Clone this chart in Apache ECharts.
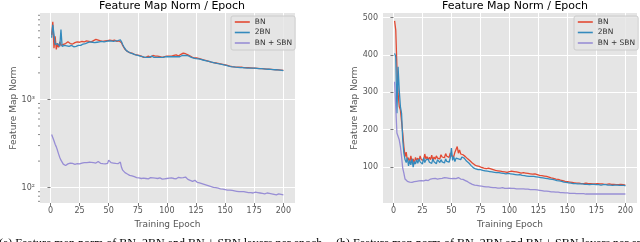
<!DOCTYPE html>
<html>
<head>
<meta charset="utf-8">
<script src="https://cdn.jsdelivr.net/npm/echarts@6/dist/echarts.min.js"></script>
<style>html,body{margin:0;padding:0;background:#fff;}#c{width:640px;height:242px;}</style>
</head>
<body>
<div id="c"></div>
<script>
// ---- data ----
const epochs = Array.from({length: 200}, (_, i) => i + 1);
const xTicks = [0, 25, 50, 75, 100, 125, 150, 175, 200];
const yTicksLog = [100, 1000];
const yTicksLin = [100, 200, 300, 400, 500];
const minorLog = [70, 80, 90, 200, 300, 400, 500, 600, 700, 800, 900, 2000, 3000, 4000, 5000, 6000, 7000, 8000, 9000];
const seriesNames = ['BN', '2BN', 'BN + SBN'];

// left panel (log scale)
const leftBN = [
5400,7600,3800,5200,3700,4300,3900,4500,4100,4300,
4200,4400,4300,4100,4500,4350,4300,4400,4250,4450,
4400,4350,4500,4300,4450,4400,4550,4400,4500,4450,
4600,4500,4550,4700,4500,4600,4650,4550,4800,4600,
4700,4900,4600,4750,4550,4700,4600,4750,4650,4550,
4700,4600,4650,4500,4700,4600,4550,4650,4600,4700,
4400,4100,3900,3700,3600,3500,3450,3400,3350,3350,
3300,3250,3250,3200,3200,3150,3100,3100,3050,3000,
3050,3000,3050,3100,3050,3000,3100,3150,3050,3100,
3050,3100,3150,3050,3100,3000,3100,3050,3150,3100,
3050,3100,3150,3100,3050,3150,3100,3200,3150,3100,
3200,3250,3300,3350,3400,3300,3250,3200,3150,3100,
3050,3000,3000,2950,3000,2950,2900,2900,2850,2850,
2800,2800,2750,2750,2720,2700,2680,2650,2640,2620,
2600,2590,2570,2560,2550,2530,2510,2500,2490,2470,
2450,2430,2410,2390,2380,2360,2350,2340,2330,2330,
2320,2320,2310,2320,2310,2300,2310,2290,2300,2290,
2300,2280,2290,2270,2290,2260,2270,2250,2260,2240,
2250,2230,2240,2220,2230,2210,2220,2200,2210,2190,
2200,2180,2190,2170,2180,2160,2170,2150,2160,2140];
const left2BN = [
5000,7000,5500,4200,4000,4300,4100,4000,6200,4000,
3900,4100,3950,4050,3900,4000,3950,4100,4000,3950,
4050,4000,3850,4100,4150,4100,4200,4250,4200,4300,
4350,4400,4300,4500,4400,4450,4500,4400,4550,4450,
4600,4500,4400,4550,4600,4500,4650,4550,4500,4600,
4450,4600,4500,4550,4450,4600,4500,4650,4550,4750,
4500,4200,3950,3750,3600,3500,3450,3400,3350,3300,
3280,3250,3200,3200,3150,3100,3100,3050,3050,3000,
3000,3050,3000,3050,3000,3050,3100,3050,3000,3050,
3000,3050,3000,3050,3000,3050,3000,3050,3050,3000,
3050,3000,3050,3100,3050,3000,3050,3100,3050,3100,
3050,3100,3150,3100,3150,3200,3150,3100,3100,3050,
3000,3000,2950,2950,2900,2900,2880,2860,2840,2820,
2800,2780,2760,2740,2720,2700,2680,2660,2640,2620,
2600,2580,2560,2550,2530,2510,2500,2480,2460,2450,
2430,2410,2390,2380,2360,2350,2340,2330,2320,2320,
2310,2310,2300,2300,2290,2290,2280,2290,2270,2280,
2270,2260,2270,2250,2260,2240,2250,2230,2240,2220,
2230,2210,2220,2200,2210,2190,2200,2180,2190,2170,
2180,2160,2170,2150,2160,2140,2150,2130,2140,2120];
const leftSBN = [
400,380,340,310,290,265,240,220,205,195,
185,182,178,180,186,180,190,183,188,181,
184,180,187,191,186,195,190,197,192,196,
192,199,194,197,193,195,192,196,190,194,
198,192,189,193,187,191,186,190,188,205,
196,192,195,190,193,188,191,187,190,195,
170,158,152,148,145,143,140,138,137,136,
134,133,132,130,131,129,130,127,129,128,
130,127,129,126,128,130,127,129,126,128,
130,127,126,129,127,125,128,126,124,127,
125,128,126,129,124,127,130,126,128,131,
127,129,126,130,128,132,127,124,122,121,
119,118,116,121,117,115,114,113,112,111,
110,109,108,107,106,105,104,103,102,101,
101,100,99,99,98,97,97,96,95,95,
96,94,93,94,92,93,91,92,90,91,
91,90,89,90,89,90,88,89,90,88,
89,88,89,87,88,89,87,88,86,87,
88,86,87,85,86,87,85,86,84,85,
86,84,85,83,84,85,83,84,82,83];

// right panel (linear scale)
const rightBN = [
491,466,368,297,262,253,248,191,155,128,
140,118,125,110,130,115,122,108,126,118,
124,116,130,120,125,118,135,122,128,119,
126,120,132,118,127,121,130,124,128,122,
133,127,131,125,136,129,132,126,138,130,
135,128,140,145,155,137,146,135,139,133,
131,128,124,122,120,117,114,111,108,106,
105,103,104,102,101,99,100,97,98,96,
95,97,94,95,92,93,94,91,92,90,
91,89,90,88,89,87,88,86,89,88,
87,89,86,88,85,87,84,86,85,84,
83,85,82,84,81,83,80,82,79,81,
80,82,79,80,77,78,76,77,75,76,
74,75,73,73,72,71,70,70,69,68,
67,67,66,65,64,64,63,62,62,61,
60,60,59,59,58,58,58,57,57,57,
57,56,57,56,56,57,56,56,55,56,
56,55,56,55,55,56,55,55,54,55,
55,54,55,54,54,55,54,54,53,54,
54,53,54,53,53,54,53,53,53,52];
const right2BN = [
404,395,244,368,306,262,244,173,137,120,
112,125,103,118,106,122,100,115,108,120,
110,122,114,118,108,125,112,119,115,121,
113,118,110,122,114,117,109,120,115,112,
120,114,118,111,122,115,119,113,125,151,
118,128,115,124,128,122,126,120,127,128,
124,120,116,113,111,107,104,101,98,97,
95,94,93,94,93,92,91,92,90,91,
89,90,88,89,87,88,86,87,85,86,
85,86,84,85,83,84,82,85,83,84,
82,84,81,83,80,82,79,81,80,79,
78,80,77,79,76,78,75,77,75,76,
75,76,74,75,73,74,72,73,71,72,
70,70,69,69,68,67,67,66,66,65,
64,64,63,62,62,61,60,60,59,59,
58,58,57,57,56,56,56,55,55,55,
55,54,55,54,54,55,54,54,53,54,
54,53,54,53,53,54,53,53,52,53,
53,52,53,52,52,53,52,52,51,52,
52,51,52,51,51,52,51,51,51,50];
const rightSBN = [
328,324,191,186,173,155,128,97,84,68,
64,62,65,60,63,59,64,61,66,62,
65,63,67,64,66,63,68,65,67,64,
66,68,65,69,67,70,66,68,67,69,
68,70,67,72,69,71,68,70,67,69,
68,70,66,69,67,72,70,68,69,67,
66,64,63,61,59,57,55,54,53,52,
51,51,50,50,49,49,48,48,48,47,
47,47,46,46,46,45,46,45,45,44,
45,44,44,45,44,43,44,43,43,44,
43,43,42,43,42,42,43,42,41,42,
41,42,41,41,40,41,40,40,39,40,
41,40,40,39,39,38,38,37,37,36,
36,36,35,35,35,34,34,34,33,33,
33,33,32,32,32,32,31,31,31,31,
31,30,30,30,30,30,29,29,29,29,
29,29,29,29,28,28,28,28,28,28,
28,28,28,28,28,28,28,28,28,28,
28,28,28,28,28,28,28,28,28,28,
28,28,28,28,28,28,28,28,28,28];

const titleText = 'Feature Map Norm / Epoch';
const xName = 'Training Epoch';
const yName = 'Feature Map Norm';
const captionA = '(a) Feature map norm of BN, 2BN and BN + SBN layers per epoch';
const captionB = '(b) Feature map norm of BN, 2BN and BN + SBN layers per epoch';

// ---- styling ----
const colors = ['#E24A33', '#348ABD', '#988ED5'];
const FONT = 'DejaVu Sans';
const GRAY = '#555555';
const pair = arr => arr.map((v, i) => [epochs[i], v]);
const sup = {2: '\u00b2', 3: '\u00b3', 4: '\u2074', 1: '\u00b9'};

function xAxisCfg(idx) {
  return {
    type: 'value', gridIndex: idx, min: -9, max: 210,
    axisLine: {show: false},
    axisTick: {show: true, length: 3, customValues: xTicks, lineStyle: {color: GRAY, width: 0.8}},
    axisLabel: {customValues: xTicks, color: GRAY, fontSize: 8, fontFamily: FONT, margin: 4},
    splitLine: {show: true, lineStyle: {color: '#ffffff', width: 1}},
    name: xName, nameLocation: 'middle', nameGap: 14,
    nameTextStyle: {color: GRAY, fontSize: 9, fontFamily: FONT}
  };
}

const chart = echarts.init(document.getElementById('c'), null, {renderer: 'canvas'});
const lineSeries = (name, data, xi, color) => ({
  name, type: 'line', xAxisIndex: xi, yAxisIndex: xi, data: pair(data),
  symbol: 'none', lineStyle: {color, width: 1.3}, itemStyle: {color},
  animation: false, z: 3
});
const legendCfg = (left) => ({
  left, top: 16, orient: 'vertical', data: seriesNames,
  itemWidth: 15, itemHeight: 8, itemGap: 2.5, padding: [2, 3, 3, 3],
  backgroundColor: 'rgba(229,229,229,0.8)', borderColor: '#cccccc', borderWidth: 1, borderRadius: 2,
  textStyle: {fontSize: 7.5, fontFamily: FONT, color: '#333'},
  itemStyle: {opacity: 0},
  lineStyle: {width: 1.6}, selectedMode: false
});

chart.setOption({
  animation: false,
  backgroundColor: '#ffffff',
  color: colors,
  title: [
    {text: titleText, left: 167, top: -4, textAlign: 'center', textStyle: {fontSize: 11, fontWeight: 'normal', fontFamily: FONT, color: '#000'}},
    {text: titleText, left: 510, top: -4, textAlign: 'center', textStyle: {fontSize: 11, fontWeight: 'normal', fontFamily: FONT, color: '#000'}}
  ],
  legend: [legendCfg(231), legendCfg(574)],
  grid: [
    {left: 40, top: 13, width: 255, height: 190, show: true, backgroundColor: '#E5E5E5', borderWidth: 0},
    {left: 383, top: 13, width: 254, height: 190, show: true, backgroundColor: '#E5E5E5', borderWidth: 0}
  ],
  xAxis: [xAxisCfg(0), xAxisCfg(1)],
  yAxis: [
    {
      type: 'log', logBase: 10, gridIndex: 0, min: 67, max: 9550,
      axisLine: {show: false},
      axisTick: {show: true, length: 3, customValues: yTicksLog, lineStyle: {color: GRAY, width: 0.8}},
      axisLabel: {customValues: yTicksLog, color: GRAY, fontSize: 8, fontFamily: FONT, margin: 5,
        formatter: v => '10' + (sup[Math.round(Math.log10(v))] || '')},
      splitLine: {show: true, lineStyle: {color: '#ffffff', width: 1}},
      name: yName, nameLocation: 'middle', nameGap: 20,
      nameTextStyle: {color: GRAY, fontSize: 9, fontFamily: FONT}
    },
    {
      type: 'value', gridIndex: 1, min: 4, max: 512,
      axisLine: {show: false},
      axisTick: {show: true, length: 3, customValues: yTicksLin, lineStyle: {color: GRAY, width: 0.8}},
      axisLabel: {customValues: yTicksLin, color: GRAY, fontSize: 8, fontFamily: FONT, margin: 5},
      splitLine: {show: true, lineStyle: {color: '#ffffff', width: 1}},
      name: yName, nameLocation: 'middle', nameGap: 22,
      nameTextStyle: {color: GRAY, fontSize: 9, fontFamily: FONT}
    }
  ],
  series: [
    lineSeries(seriesNames[0], leftBN, 0, colors[0]),
    lineSeries(seriesNames[1], left2BN, 0, colors[1]),
    lineSeries(seriesNames[2], leftSBN, 0, colors[2]),
    lineSeries(seriesNames[0], rightBN, 1, colors[0]),
    lineSeries(seriesNames[1], right2BN, 1, colors[1]),
    lineSeries(seriesNames[2], rightSBN, 1, colors[2])
  ]
});

// minor ticks on the log axis + captions
const gx = chart.convertToPixel({xAxisIndex: 0}, -9);
const minorEls = minorLog.map(v => {
  const y = chart.convertToPixel({yAxisIndex: 0}, v);
  return {type: 'line', shape: {x1: gx - 2, y1: y, x2: gx, y2: y}, style: {stroke: GRAY, lineWidth: 0.7}, silent: true};
});
chart.setOption({
  graphic: minorEls.concat([
    {type: 'text', left: -1, top: 237.5, style: {text: captionA, font: '12px "Liberation Serif"', fill: '#000'}, silent: true},
    {type: 'text', left: 336, top: 237.5, style: {text: captionB, font: '12px "Liberation Serif"', fill: '#000'}, silent: true}
  ])
});
</script>
</body>
</html>
